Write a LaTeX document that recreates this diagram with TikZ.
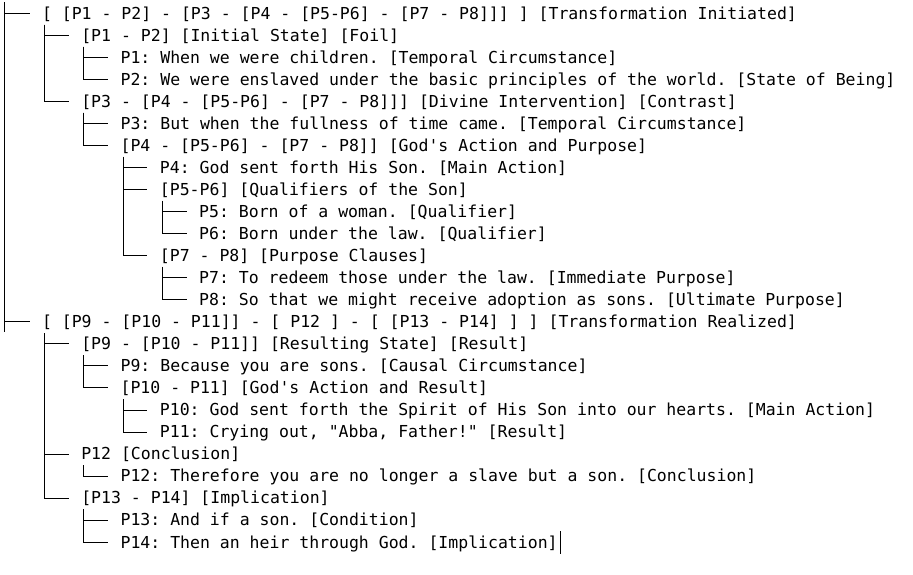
\documentclass[tikz,border=0pt]{standalone}
\usepackage{fontspec}
\setmonofont{DejaVu Sans Mono}
\usepackage{tikz}
\usetikzlibrary{positioning}

\begin{document}
\begin{tikzpicture}[x=1pt,y=1pt,
                    entry/.style={inner sep=0mm,outer sep=0,
                                  anchor=west,
                                  text height=17pt,text depth=5.5pt,
                                  font=\ttfamily\fontsize{16.5}{22}\selectfont
                                 },
                    branch/.style={
                                  line width=1pt,
                                  draw=black
                                  }
                   ]
\fill[white] (0,0) rectangle (913,-574);
% first part
\node[entry] (A) at (42,-13.3) {[ [P1 - P2] - [P3 - [P4 - [P5-P6] - [P7 - P8]]] ] [Transformation Initiated]};
\node[entry] (B) at (81.3,-35.34) {[P1 - P2] [Initial State] [Foil]};
\node[entry] (C) at (120.6,-57.38) {P1: When we were children. [Temporal Circumstance]};
\node[entry] (D) at (120.6,-79.42) {P2: We were enslaved under the basic principles of the world. [State of Being]};
\node[entry] (E) at (81.3,-101.46) {[P3 - [P4 - [P5-P6] - [P7 - P8]]] [Divine Intervention] [Contrast]};
\node[entry] (F) at (120.6,-123.5) {P3: But when the fullness of time came. [Temporal Circumstance]};
\node[entry] (G) at (120.6,-145.54) {[P4 - [P5-P6] - [P7 - P8]] [God's Action and Purpose]};
\node[entry] (H) at (159.9,-167.58) {P4: God sent forth His Son. [Main Action]};
\node[entry] (I) at (159.9,-189.62) {[P5-P6] [Qualifiers of the Son]};
\node[entry] (J) at (199.2,-211.66) {P5: Born of a woman. [Qualifier]};
\node[entry] (K) at (199.2,-233.7) {P6: Born under the law. [Qualifier]};
\node[entry] (L) at (159.9,-255.74) {[P7 - P8] [Purpose Clauses]};
\node[entry] (M) at (199.2,-277.78) {P7: To redeem those under the law. [Immediate Purpose]};
\node[entry] (N) at (199.2,-299.82) {P8: So that we might receive adoption as sons. [Ultimate Purpose]};
% second part
\node[entry] (O) at (42,-321.86) {[ [P9 - [P10 - P11]] - [ P12 ] - [ [P13 - P14] ] ] [Transformation Realized]};
\node[entry] (P) at (81.3,-343.9) {[P9 - [P10 - P11]] [Resulting State] [Result]};
\node[entry] (Q) at (120.6,-365.94) {P9: Because you are sons. [Causal Circumstance]};
\node[entry] (R) at (120.6,-387.98) {[P10 - P11] [God's Action and Result]};
\node[entry] (S) at (159.9,-410.02) {P10: God sent forth the Spirit of His Son into our hearts. [Main Action]};
\node[entry] (T) at (159.9,-432.06) {P11: Crying out, "Abba, Father!" [Result]};
\node[entry] (U) at (81.3,-454.1) {P12 [Conclusion]};
\node[entry] (V) at (120.6,-476.14) {P12: Therefore you are no longer a slave but a son. [Conclusion]};
\node[entry] (W) at (81.3,-498.18) {[P13 - P14] [Implication]};
\node[entry] (X) at (120.6,-520.22) {P13: And if a son. [Condition]};
\node[entry] (Y) at (120.6,-542.26) {P14: Then an heir through God. [Implication]};
% trunk
\coordinate (top) at (4,-2);
\coordinate (foot) at (4,-332);
\draw[branch] (top) -- (foot);
\foreach \c in {A,O}
  \draw[branch] (top) |- ([xshift=-12.5pt]\c.west);
% branches
\foreach \p/\c in {A/B,A/E,B/C,B/D,E/F,E/G,G/H,G/I,G/L,I/J,I/K,L/M,L/N,
                   O/P,O/U,O/W,P/Q,P/R,R/S,R/T,U/V,W/X,W/Y}
  \draw[branch] ([xshift=2.5pt]\p.south west) |- ([xshift=-12.5pt]\c.west);
% cursor
\draw[line width=0.8pt] ([xshift=3pt]Y.north east) -- ([xshift=3pt]Y.south east);
\end{tikzpicture}
\end{document}
